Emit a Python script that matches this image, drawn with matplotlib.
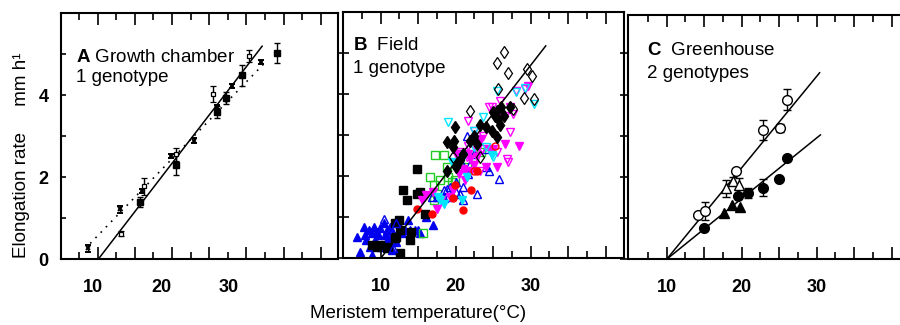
import numpy as np
import matplotlib.pyplot as plt

plt.rcParams['font.family'] = ['Liberation Sans', 'DejaVu Sans']
plt.rcParams['mathtext.fontset'] = 'custom'
plt.rcParams['mathtext.rm'] = 'Liberation Sans'
plt.rcParams['mathtext.bf'] = 'Liberation Sans:bold'

# ---------------- data ----------------
# A: growth chamber, 1 genotype
a_sq_open_x = [13.2, 16.2, 20.5, 25.5, 30.4]
a_sq_open_y = [0.62, 1.77, 2.55, 4.02, 4.95]
a_sq_open_e = [0.06, 0.20, 0.15, 0.20, 0.15]
a_sq_fill_x = [15.7, 20.5, 26.0, 27.2, 29.4, 34.1]
a_sq_fill_y = [1.39, 2.30, 3.59, 3.92, 4.48, 5.03]
a_sq_fill_e = [0.12, 0.25, 0.15, 0.15, 0.25, 0.25]
a_x_x = [8.7, 13.0, 16.0, 19.9, 23.0, 26.0, 28.0, 32.0]
a_x_y = [0.26, 1.21, 1.65, 2.52, 2.89, 3.70, 4.22, 4.80]
a_x_e = [0.08, 0.08, 0.05, 0.05, 0.06, 0.05, 0.05, 0.05]
a_fit_solid_x = [10.1, 32.1]
a_fit_solid_y = [0.0, 5.19]
a_fit_dot_x = [9.0, 32.7]
a_fit_dot_y = [0.38, 4.83]
a_label_pos = [9.3, 18.6, 27.6]   # tick labels are shifted in the original panel

# B: field, 1 genotype
b_blue_fill_x = [6.8, 7.2, 7.8, 7.9, 8.1, 8.4, 8.6, 8.8, 8.9, 9.1, 9.2, 9.5, 9.7, 9.9, 10.1,
                 10.4, 10.6, 10.8, 11.0, 11.2, 11.5, 11.7, 12.1, 12.6, 12.8, 13.2, 13.7, 13.9,
                 14.6, 15.0, 15.2, 16.1, 17.0]
b_blue_fill_y = [0.51, 0.16, 0.77, 0.57, 0.45, 0.69, 0.28, 0.08, 0.61, 0.77, 0.45, 0.65, 0.57,
                 0.73, 0.28, 0.85, 0.57, 0.69, 0.49, 0.77, 0.20, 0.61, 0.40, 0.77, 0.61, 0.69,
                 0.93, 0.69, 0.69, 0.69, 0.61, 1.01, 0.81]
b_blue_open_x = [10.4, 12.1, 11.7, 16.8, 17.5, 17.9, 18.4, 18.8, 19.0, 20.1, 20.6, 21.0, 21.5,
                 20.8, 21.7, 21.9, 22.8, 24.1, 24.4, 24.0, 25.8, 18.4, 20.1, 19.2, 22.4, 21.0]
b_blue_open_y = [0.97, 0.85, 0.24, 1.50, 1.50, 1.50, 1.46, 1.70, 1.50, 1.62, 1.58, 1.74, 2.99,
                 2.31, 2.06, 2.31, 1.58, 2.67, 2.14, 2.22, 1.94, 1.66, 1.86, 1.74, 2.55, 1.42]
b_blk_sq_x = [14.8, 13.0, 13.5, 14.8, 15.2, 12.6, 12.1, 11.9, 11.0, 9.5, 8.8, 10.9, 12.6, 13.9,
              14.1, 15.9, 11.9, 12.4, 9.9]
b_blk_sq_y = [2.18, 1.66, 1.42, 1.58, 1.62, 0.69, 0.53, 0.49, 0.28, 0.28, 0.32, 0.24, 0.12, 0.45,
              0.65, 1.09, 0.85, 0.93, 0.32]
b_blk_dia_x = [18.8, 19.8, 19.9, 19.7, 20.1, 18.8, 20.6, 21.0, 21.9, 22.4, 22.8, 23.2, 24.1, 24.8,
               25.2, 25.5, 25.7, 25.9, 26.1, 25.5, 25.0, 26.4, 27.2]
b_blk_dia_y = [2.83, 2.87, 3.20, 2.71, 2.22, 2.14, 2.39, 2.55, 2.87, 2.99, 2.79, 3.24, 3.20, 3.11,
               3.48, 2.95, 3.40, 3.24, 3.68, 3.60, 3.56, 3.48, 3.68]
b_dia_open_x = [25.5, 26.4, 27.0, 29.5, 30.2, 25.6, 29.1, 30.4, 27.7, 21.9, 19.7, 23.2]
b_dia_open_y = [4.77, 5.02, 4.53, 4.61, 4.45, 4.13, 3.92, 3.88, 3.64, 3.60, 2.47, 2.47]
b_green_x = [17.2, 18.4, 16.6, 17.1, 17.9, 17.5, 17.1, 18.8, 19.5, 19.9, 20.6, 23.4, 22.4, 15.6,
             19.0, 21.5]
b_green_y = [2.51, 2.51, 1.98, 1.78, 1.90, 1.58, 1.42, 2.22, 1.86, 1.90, 2.55, 2.59, 2.47, 0.61,
             1.98, 2.22]
b_mag_fill_x = [15.5, 16.1, 17.0, 17.5, 18.1, 19.2, 19.7, 20.4, 21.2, 21.9, 22.4, 22.8, 23.2, 23.4,
                24.0, 24.4, 25.5, 25.9, 26.6, 27.2, 28.5, 29.6, 25.9, 20.6, 21.0, 21.7, 21.2,
                20.1, 22.1, 25.0]
b_mag_fill_y = [1.42, 1.54, 1.62, 1.21, 1.42, 1.50, 1.66, 2.06, 2.14, 2.43, 2.27, 2.47, 2.87, 2.91,
                2.22, 2.67, 2.22, 3.40, 2.79, 3.68, 2.75, 4.21, 3.60, 2.39, 2.18, 2.55, 1.90,
                2.55, 2.14, 2.67]
b_mag_open_x = [21.7, 24.4, 24.8, 25.9, 26.6, 27.2, 26.8, 27.0, 28.1, 23.2, 25.5, 23.7, 22.4, 20.6,
                22.8, 21.7, 23.5, 20.1, 21.5, 27.7, 29.2]
b_mag_open_y = [3.36, 3.68, 3.68, 3.84, 3.48, 3.07, 2.43, 2.35, 4.09, 2.14, 2.59, 2.99, 3.11, 2.59,
                2.63, 2.75, 2.67, 2.31, 2.47, 3.52, 4.13]
b_cyan_open_x = [19.0, 22.4, 23.6, 25.5, 28.1, 29.2, 30.4, 21.0, 22.4, 25.0, 24.1]
b_cyan_open_y = [3.32, 3.11, 3.44, 4.09, 4.05, 4.15, 3.76, 2.47, 2.71, 2.47, 2.71]
b_cyan_fill_x = [17.7, 18.4, 19.5, 20.8, 21.5, 17.9, 24.8]
b_cyan_fill_y = [1.50, 1.33, 2.35, 1.42, 1.98, 1.42, 2.51]
b_red_fill_x = [14.8, 16.9, 19.7, 21.0, 22.1, 22.8, 19.9]
b_red_fill_y = [1.21, 1.09, 1.46, 1.17, 1.66, 2.14, 1.78]
b_red_open_x = [25.2, 22.4]
b_red_open_y = [2.75, 2.14]
b_fit_x = [10.0, 32.0]
b_fit_y = [0.0, 5.18]

# C: greenhouse, 2 genotypes
c_circ_open_x = [14.2, 15.1, 19.3, 22.9, 25.1, 26.1]
c_circ_open_y = [1.08, 1.18, 2.15, 3.14, 3.18, 3.88]
c_circ_open_e = [0.0, 0.22, 0.0, 0.25, 0.10, 0.25]
c_circ_fill_x = [15.0, 19.5, 20.8, 22.8, 25.0, 26.1]
c_circ_fill_y = [0.75, 1.54, 1.62, 1.74, 1.95, 2.47]
c_circ_fill_e = [0.0, 0.0, 0.12, 0.20, 0.0, 0.0]
c_tri_open_x = [17.9, 18.8, 19.7]
c_tri_open_y = [1.72, 1.90, 1.80]
c_tri_open_e = [0.20, 0.10, 0.18]
c_tri_fill_x = [17.7, 18.7, 19.8]
c_tri_fill_y = [1.12, 1.33, 1.28]
c_fit_hi_x = [10.0, 30.4]
c_fit_hi_y = [0.0, 4.53]
c_fit_lo_x = [10.0, 30.5]
c_fit_lo_y = [0.0, 3.02]

x_labels = ['10', '20', '30']
x_label_pos = [10, 20, 30]

# ---------------- figure ----------------
W, H = 900, 325
fig = plt.figure(figsize=(W / 100, H / 100), dpi=100)


def add_ax(left, top, right, bottom):
    return fig.add_axes([left / W, 1 - bottom / H, (right - left) / W, (bottom - top) / H])


axA = add_ax(61, 13, 338.3, 259)
axB = add_ax(342.7, 12.3, 624, 258.3)
axC = add_ax(628.3, 14.7, 628.3 + 281.3, 259.3)


def style(ax, xlim, ylim, label_pos):
    ax.set_xlim(*xlim)
    ax.set_ylim(*ylim)
    ax.set_xticks(np.arange(10, 41, 5))
    ax.set_xticks(np.arange(7.5, 42, 5), minor=True)
    ax.set_yticks([0, 2, 4])
    ax.set_yticks([1, 3, 5], minor=True)
    ax.tick_params(axis='x', which='both', direction='in', top=True, bottom=True,
                   labelbottom=False, width=1.2)
    ax.tick_params(axis='x', which='major', length=8.5)
    ax.tick_params(axis='x', which='minor', length=4.8)
    for s in ax.spines.values():
        s.set_linewidth(1.5)
    for p, t in zip(label_pos, x_labels):
        ax.text(p, -0.115, t, transform=ax.get_xaxis_transform(), ha='center', va='center',
                fontsize=13, fontweight='bold')


style(axA, (5.07, 42.34), (0, 6), a_label_pos)
style(axB, (4.93, 42.44), (0, 6), x_label_pos)
style(axC, (4.89, 42.4), (0, 5.94), x_label_pos)

axA.tick_params(axis='y', which='both', direction='in', length=3.5, width=1.2, labelsize=13, pad=9)
for t in axA.get_yticklabels():
    t.set_fontweight('bold')
axB.tick_params(axis='y', which='both', direction='inout', length=8, width=1.2, labelleft=False)
axC.tick_params(axis='y', which='both', direction='out', length=5.5, width=1.2, labelleft=False)

# ---- panel A ----
ebkw = dict(capsize=2.2, elinewidth=1.0, capthick=1.0, color='black', zorder=3)
axA.errorbar(a_x_x, a_x_y, yerr=a_x_e, fmt='x', ms=3.5, mew=1.4, **ebkw)
axA.errorbar(a_sq_open_x, a_sq_open_y, yerr=a_sq_open_e, fmt='s', ms=3.5, mfc='white', mew=0.9, **ebkw)
axA.errorbar(a_sq_fill_x, a_sq_fill_y, yerr=a_sq_fill_e, fmt='s', ms=4, **ebkw)
axA.plot(a_fit_solid_x, a_fit_solid_y, color='black', lw=1.1)
axA.plot(a_fit_dot_x, a_fit_dot_y, color='black', lw=1.2, linestyle=(0, (1, 3.5)))
axA.text(0.054, 0.802, r'$\mathbf{A}$ Growth chamber', transform=axA.transAxes, fontsize=13.5,
         va='baseline')
axA.text(0.054, 0.721, '1 genotype', transform=axA.transAxes, fontsize=13.5, va='baseline')

# ---- panel B ----
ms = 5.5
axB.plot(b_blue_fill_x, b_blue_fill_y, '^', color='#0000ee', ms=ms, ls='none')
axB.plot(b_blk_sq_x, b_blk_sq_y, 's', color='black', ms=ms, ls='none')
axB.plot(b_green_x, b_green_y, 's', mfc='none', mec='#22cc22', mew=1.0, ms=ms, ls='none')
axB.plot(b_blue_open_x, b_blue_open_y, '^', mfc='none', mec='#0000ee', mew=1.0, ms=ms, ls='none')
axB.plot(b_mag_fill_x, b_mag_fill_y, 'v', color='#ff00ff', ms=ms, ls='none')
axB.plot(b_mag_open_x, b_mag_open_y, 'v', mfc='none', mec='#ff00ff', mew=1.0, ms=ms, ls='none')
axB.plot(b_cyan_fill_x, b_cyan_fill_y, 'v', color='#00e5ff', ms=ms, ls='none')
axB.plot(b_cyan_open_x, b_cyan_open_y, 'v', mfc='none', mec='#00e5ff', mew=1.0, ms=ms, ls='none')
axB.plot(b_red_fill_x, b_red_fill_y, 'o', color='#ff0000', ms=5, ls='none')
axB.plot(b_red_open_x, b_red_open_y, 'o', mfc='none', mec='#ff0000', mew=1.0, ms=5, ls='none')
axB.plot(b_blk_dia_x, b_blk_dia_y, 'd', color='black', ms=6.5, ls='none')
axB.plot(b_dia_open_x, b_dia_open_y, 'd', mfc='none', mec='black', mew=0.9, ms=6.5, ls='none')
axB.plot(b_fit_x, b_fit_y, color='black', lw=1.1)
axB.text(0.038, 0.847, r'$\mathbf{B}$  Field', transform=axB.transAxes, fontsize=13.5, va='baseline')
axB.text(0.038, 0.754, '1 genotype', transform=axB.transAxes, fontsize=13.5, va='baseline')

# ---- panel C ----
ebc = dict(capsize=3, elinewidth=1.0, capthick=1.0, ecolor='black', zorder=3)
axC.plot(c_fit_hi_x, c_fit_hi_y, color='black', lw=1.1)
axC.plot(c_fit_lo_x, c_fit_lo_y, color='black', lw=1.1)
axC.errorbar(c_tri_open_x, c_tri_open_y, yerr=c_tri_open_e, fmt='^', ms=7, mfc='white',
             mec='black', mew=1.0, **ebc)
axC.errorbar(c_circ_open_x, c_circ_open_y, yerr=c_circ_open_e, fmt='o', ms=7, mfc='white',
             mec='black', mew=1.0, **ebc)
axC.errorbar(c_circ_fill_x, c_circ_fill_y, yerr=c_circ_fill_e, fmt='o', ms=7, mfc='black',
             mec='black', **ebc)
axC.plot(c_tri_fill_x, c_tri_fill_y, '^', color='black', ms=7, ls='none', zorder=4)
axC.text(0.065, 0.835, r'$\mathbf{C}$  Greenhouse', transform=axC.transAxes, fontsize=13.5,
         va='baseline')
axC.text(0.065, 0.74, '2 genotypes', transform=axC.transAxes, fontsize=13.5, va='baseline')

# ---- shared labels ----
fig.text(22 / W, 1 - 155.5 / H, 'Elongation rate     mm h\u00b9', rotation=90, ha='center',
         va='center', fontsize=13.5)
fig.text(418 / W, 1 - 313 / H, 'Meristem temperature(\u00b0C)', ha='center', va='center',
         fontsize=13.5)

fig.savefig('out.png', dpi=100)
